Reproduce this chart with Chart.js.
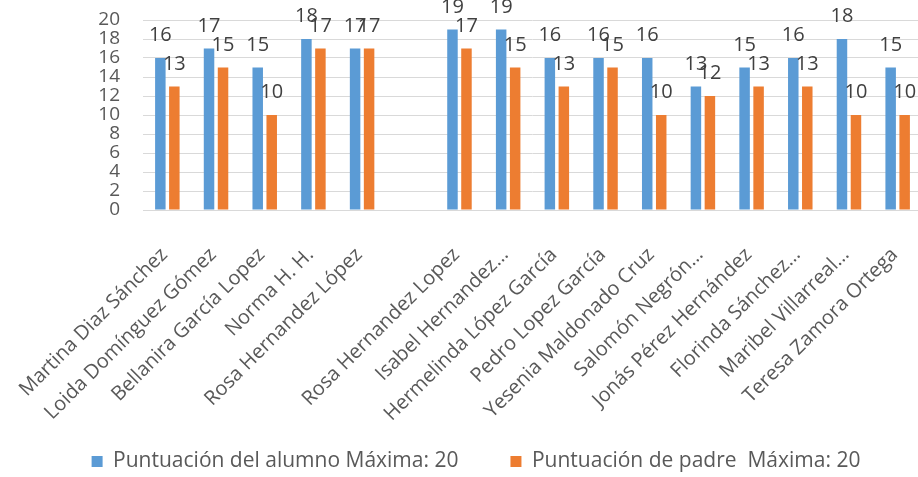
<!DOCTYPE html>
<html>
<head>
<meta charset="utf-8">
<script src="https://cdn.jsdelivr.net/npm/chart.js@4.4.1/dist/chart.umd.min.js"></script>
<style>
  html, body { margin: 0; padding: 0; background: #fff; overflow: hidden; }
  #wrap { width: 922px; height: 477px; }
</style>
</head>
<body>
<div id="wrap"><canvas id="chart"></canvas></div>
<script>
"use strict";

// categorías (la 6ª está vacía en el original)
const NAMES = [
  "Martina Diaz Sánchez",
  "Loida Domínguez Gómez",
  "Bellanira García Lopez",
  "Norma H. H.",
  "Rosa Hernandez López",
  "",
  "Rosa Hernandez Lopez",
  "Isabel Hernandez…",
  "Hermelinda López García",
  "Pedro Lopez García",
  "Yesenia Maldonado Cruz",
  "Salomón Negrón…",
  "Jonás Pérez Hernández",
  "Florinda Sánchez…",
  "Maribel Villarreal…",
  "Teresa Zamora Ortega",
];
const ALUMNO = [16, 17, 15, 18, 17, null, 19, 19, 16, 16, 16, 13, 15, 16, 18, 15];
const PADRE = [13, 15, 10, 17, 17, null, 17, 15, 13, 15, 10, 12, 13, 13, 10, 10];
const Y_MIN = 0;
const Y_MAX = 20;
const Y_STEP = 2;

const TXT = "#595959";
const GRID = "#d9d9d9";
const FONT = "'Open Sans', 'Noto Sans', sans-serif";

// etiquetas de valor encima de cada barra
const valueLabels = {
  id: "valueLabels",
  afterDatasetsDraw(chart) {
    const ctx = chart.ctx;
    ctx.save();
    ctx.font = `20px ${FONT}`;
    ctx.fillStyle = "#404040";
    ctx.textAlign = "center";
    ctx.textBaseline = "alphabetic";
    chart.data.datasets.forEach((ds, i) => {
      chart.getDatasetMeta(i).data.forEach((bar, j) => {
        const v = ds.data[j];
        if (v == null) return;
        ctx.fillText(String(v), bar.x, bar.y - 17);
      });
    });
    ctx.restore();
  },
};

// ajustes tras el layout: leyenda un poco a la derecha/abajo,
// y las etiquetas del eje x sin recortar por la caja de la leyenda
const tweakLayout = {
  id: "tweakLayout",
  afterLayout(chart) {
    if (chart.legend) {
      chart.legend.left += 15;
      chart.legend.right += 15;
      chart.legend.top += 5;
      chart.legend.bottom += 5;
    }
    chart.scales.x.bottom = chart.height;
  },
};

new Chart(document.getElementById("chart"), {
  type: "bar",
  data: {
    labels: NAMES,
    datasets: [
      {
        label: "Puntuación del alumno Máxima: 20",
        data: ALUMNO,
        backgroundColor: "#5b9bd5",
        categoryPercentage: 0.575,
        barPercentage: 0.75,
      },
      {
        label: "Puntuación de padre  Máxima: 20",
        data: PADRE,
        backgroundColor: "#ed7d31",
        categoryPercentage: 0.575,
        barPercentage: 0.75,
      },
    ],
  },
  options: {
    responsive: true,
    maintainAspectRatio: false,
    animation: false,
    events: [],
    layout: { padding: { top: 20, left: 0, right: 0, bottom: 0 } },
    scales: {
      x: {
        grid: { display: false, drawTicks: false },
        border: { display: true, color: GRID, width: 1 },
        ticks: {
          color: TXT,
          font: { family: FONT, size: 20 },
          autoSkip: false,
          minRotation: 45,
          maxRotation: 45,
          padding: 33,
          labelOffset: -3,
        },
        afterFit: (s) => {
          s.height = 184;
          s.paddingLeft = 0;
          s.paddingRight = 0;
        },
      },
      y: {
        min: Y_MIN,
        max: Y_MAX,
        grid: { color: GRID, lineWidth: 1, drawTicks: false },
        border: { display: false },
        ticks: {
          stepSize: Y_STEP,
          autoSkip: false,
          color: TXT,
          font: { family: FONT, size: 19 },
          padding: 23,
        },
        afterFit: (s) => {
          s.width = 143;
          s.paddingTop = 0;
          s.paddingBottom = 0;
        },
      },
    },
    plugins: {
      legend: {
        position: "bottom",
        labels: {
          color: TXT,
          font: { family: FONT, size: 21 },
          boxWidth: 11,
          boxHeight: 11,
          padding: 52,
        },
      },
      tooltip: { enabled: false },
    },
  },
  plugins: [valueLabels, tweakLayout],
});
</script>
</body>
</html>
